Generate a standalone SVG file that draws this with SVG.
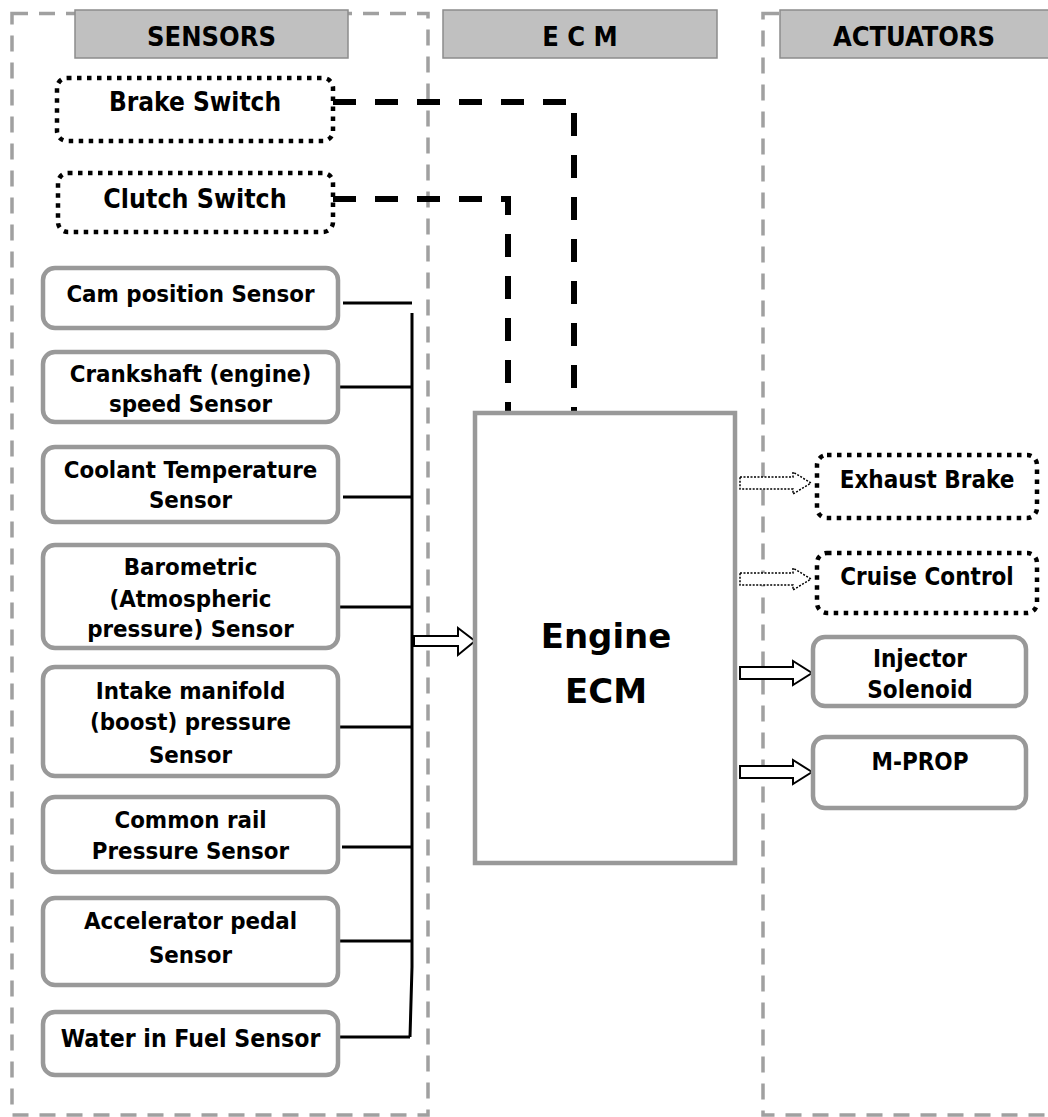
<svg xmlns="http://www.w3.org/2000/svg" width="1048" height="1117" viewBox="0 0 1048 1117">
<style>
text{font-family:"DejaVu Sans Condensed","DejaVu Sans","Liberation Sans",sans-serif;font-stretch:condensed;font-weight:bold;fill:#000;text-anchor:middle}
.ecm{font-family:"DejaVu Sans","Liberation Sans",sans-serif;font-stretch:normal;font-size:34px}
.cont{fill:none;stroke:#a0a0a0;stroke-width:3.5;stroke-dasharray:16 11}
.hdr{fill:#c0c0c0;stroke:#8c8c8c;stroke-width:1.5}
.hdrt{font-size:27px}
.sbox{fill:#fff;stroke:#999;stroke-width:4.5}
.dbox{fill:#fff;stroke:#000;stroke-width:4.5;stroke-dasharray:4.5 5.5}
.st{font-size:23.8px}
.at{font-size:24px}
.bus{fill:none;stroke:#000;stroke-width:3}
.ctl{fill:none;stroke:#000;stroke-width:6;stroke-dasharray:23 19}
.harr{fill:#fff;stroke:#000;stroke-width:2;stroke-linejoin:miter}
.darr{fill:#fff;stroke:#000;stroke-width:1.5;stroke-dasharray:2 1.5}
</style>
<defs>
<path id="arrR" d="M0,-6 H53 V-12 L72,0 L53,12 V6 H0 Z"/>
<path id="arrD" d="M0,-6 H53 V-11 L71,0 L53,11 V6 H0 Z"/>
</defs>

<g id="containers">
<rect class="cont" x="12" y="13.5" width="416" height="1101.5"/>
<rect class="cont" x="763" y="13.5" width="400" height="1101.5"/>
</g>

<g id="header-sensors"><rect class="hdr" x="75" y="10" width="273" height="48"/><text class="hdrt" x="211.5" y="46">SENSORS</text></g>
<g id="header-ecm"><rect class="hdr" x="443" y="10" width="274" height="48"/><text class="hdrt" x="580" y="46">E C M</text></g>
<g id="header-actuators"><rect class="hdr" x="780" y="10" width="280" height="48"/><text class="hdrt" x="914" y="46">ACTUATORS</text></g>

<g id="connectors">
<path class="ctl" d="M333,102 H574 V413"/>
<path class="ctl" d="M333,199 H508 V411"/>
<line class="bus" x1="343" y1="303" x2="412" y2="303"/>
<polyline class="bus" points="412,313 412,967 410,1037"/>
<line class="bus" x1="338" y1="387" x2="412" y2="387"/>
<line class="bus" x1="343" y1="497" x2="412" y2="497"/>
<line class="bus" x1="338" y1="607" x2="412" y2="607"/>
<line class="bus" x1="340" y1="727" x2="411" y2="727"/>
<line class="bus" x1="342" y1="847" x2="411" y2="847"/>
<line class="bus" x1="338" y1="941" x2="411" y2="941"/>
<line class="bus" x1="338" y1="1037" x2="410" y2="1037"/>
<path class="harr" d="M414,636 H458 V628 L475,641 L458,655 V646 H414 Z"/>
<use href="#arrD" class="darr" x="740" y="483"/>
<use href="#arrD" class="darr" x="740" y="579"/>
<use href="#arrR" class="harr" x="740" y="673"/>
<use href="#arrR" class="harr" x="740" y="772"/>
</g>

<g id="brake-switch"><rect class="dbox" x="57" y="78" width="276" height="63" rx="10"/><text x="195" y="111" font-size="26">Brake Switch</text></g>
<g id="clutch-switch"><rect class="dbox" x="58" y="173" width="275" height="59" rx="10"/><text x="195" y="208" font-size="26.5">Clutch Switch</text></g>

<g id="cam-sensor"><rect class="sbox" x="43" y="268" width="295" height="60" rx="12"/><text class="st" x="190.5" y="302">Cam position Sensor</text></g>
<g id="crank-sensor"><rect class="sbox" x="43" y="352" width="295" height="70" rx="12"/><text class="st" x="190.5" y="382">Crankshaft (engine)</text><text class="st" x="190.5" y="412">speed Sensor</text></g>
<g id="coolant-sensor"><rect class="sbox" x="43" y="447" width="295" height="75" rx="12"/><text class="st" x="190.5" y="478">Coolant Temperature</text><text class="st" x="190.5" y="508">Sensor</text></g>
<g id="baro-sensor"><rect class="sbox" x="43" y="545" width="295" height="103" rx="12"/><text class="st" x="190.5" y="575">Barometric</text><text class="st" x="190.5" y="607">(Atmospheric</text><text class="st" x="190.5" y="637">pressure) Sensor</text></g>
<g id="intake-sensor"><rect class="sbox" x="43" y="667" width="295" height="109" rx="12"/><text class="st" x="190.5" y="699">Intake manifold</text><text class="st" x="190.5" y="730">(boost) pressure</text><text class="st" x="190.5" y="763">Sensor</text></g>
<g id="rail-sensor"><rect class="sbox" x="43" y="797" width="295" height="75" rx="12"/><text class="st" x="190.5" y="828">Common rail</text><text class="st" x="190.5" y="859">Pressure Sensor</text></g>
<g id="accel-sensor"><rect class="sbox" x="43" y="898" width="295" height="87" rx="12"/><text class="st" x="190.5" y="929">Accelerator pedal</text><text class="st" x="190.5" y="963">Sensor</text></g>
<g id="water-sensor"><rect class="sbox" x="43" y="1012" width="295" height="63" rx="12"/><text x="190.5" y="1047" font-size="24.6">Water in Fuel Sensor</text></g>

<g id="engine-ecm"><rect x="475" y="413" width="260" height="450" fill="#fff" stroke="#999" stroke-width="4.5"/><text class="ecm" x="606" y="648">Engine</text><text class="ecm" x="606" y="703">ECM</text></g>

<g id="exhaust-brake"><rect class="dbox" x="817" y="455" width="220" height="63" rx="10"/><text class="at" x="927" y="488">Exhaust Brake</text></g>
<g id="cruise-control"><rect class="dbox" x="817" y="553" width="220" height="60" rx="10"/><text class="at" x="927" y="585">Cruise Control</text></g>
<g id="injector-solenoid"><rect class="sbox" x="813" y="637" width="213" height="69" rx="12"/><text class="at" x="920" y="667">Injector</text><text class="at" x="920" y="698">Solenoid</text></g>
<g id="m-prop"><rect class="sbox" x="813" y="737" width="213" height="71" rx="12"/><text class="at" x="920" y="770">M-PROP</text></g>
</svg>
